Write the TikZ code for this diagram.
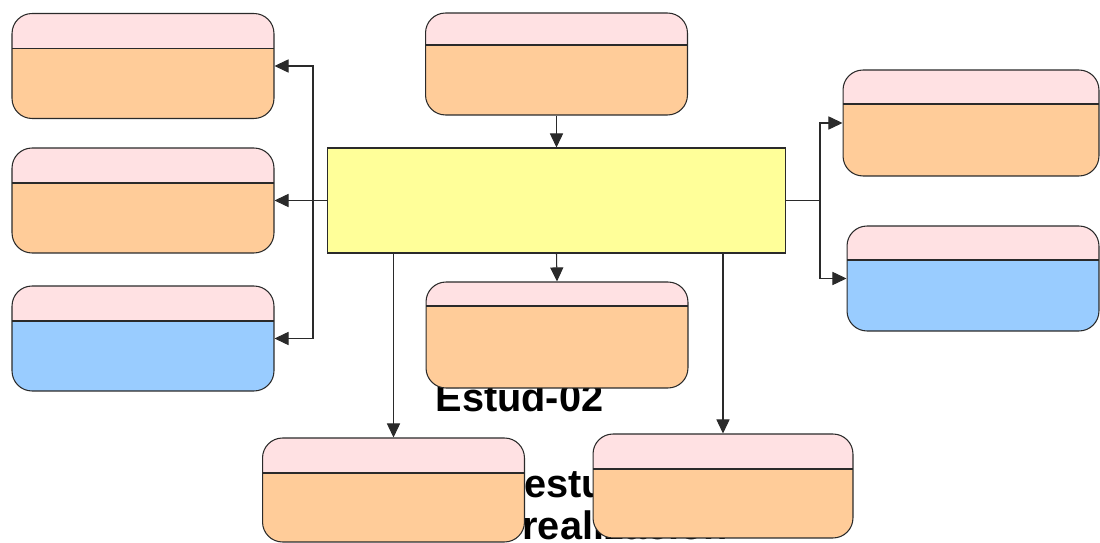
\documentclass[tikz,border=0pt]{standalone}
\usepackage{fontspec}
\setmainfont{Liberation Sans}
\usetikzlibrary{arrows.meta}
\definecolor{cabecera}{HTML}{FFE1E3}
\definecolor{naranja}{HTML}{FFCC99}
\definecolor{celeste}{HTML}{99CCFF}
\definecolor{amarillo}{HTML}{FFFF99}
\definecolor{borde}{HTML}{2A2A2A}
\tikzset{
  cab/.store in=\cabalto, cab=7mm,
  estado/.style={draw=borde, rounded corners=4mm, inner sep=0pt,
    minimum width=5.24cm, minimum height=2.1cm, fill=#1,
    path picture={
      \fill[cabecera, sharp corners] (path picture bounding box.north west) rectangle ([yshift=-\cabalto]path picture bounding box.north east);
      \draw[borde, sharp corners] ([yshift=-\cabalto]path picture bounding box.north west) -- ([yshift=-\cabalto]path picture bounding box.north east);
    }},
  proceso/.style={draw=borde, fill=amarillo, minimum width=9.18cm, minimum height=2.1cm, inner sep=0pt},
  flecha/.style={draw=borde, -{Triangle[length=8pt,width=7.5pt]}},
  texto/.style={font=\bfseries\fontsize{22.6}{24}\selectfont, inner sep=0pt, anchor=base west},
}
\begin{document}
\begin{tikzpicture}[x=0.02cm, y=-0.02cm, line width=0.6pt]
  \useasboundingbox (0,0) rectangle (1100,543);
  \node[texto] (etiqueta) at (435,412) {Estud-02};
  \node[texto] (linea1) at (524,498) {estudio};
  \node[texto] (linea2) at (522,540) {realización};

  \node[estado=naranja] (izq1) at (143,66) {};
  \node[estado=naranja] (izq2) at (143,200.5) {};
  \node[estado=celeste] (izq3) at (143,338.5) {};
  \node[estado=naranja, minimum height=2.04cm, cab=6.4mm] (arriba) at (556.5,64) {};
  \node[proceso] (central) at (556.5,200.5) {};
  \node[estado=naranja, minimum height=2.12cm, cab=4.8mm] (medio) at (557,335) {};
  \node[estado=naranja, minimum height=2.08cm] (abajoI) at (393.5,490) {};
  \node[estado=naranja, minimum width=5.2cm, minimum height=2.08cm] (abajoD) at (723,486) {};
  \node[estado=naranja, minimum width=5.12cm, minimum height=2.12cm, cab=6.8mm] (der1) at (971,123) {};
  \node[estado=celeste, minimum width=5.04cm, cab=6.8mm] (der2) at (973,278.5) {};

  \coordinate (ramaI) at (313,200.5);
  \coordinate (ramaD) at (820,200.5);
  \draw[borde] (central.west) -- (ramaI);
  \draw[flecha] (ramaI) |- (izq1.east);
  \draw[flecha] (ramaI) -- (izq2.east);
  \draw[flecha] (ramaI) |- (izq3.east);
  \draw[borde] (central.east) -- (ramaD);
  \draw[flecha] (ramaD) |- (der1.west);
  \draw[flecha] (ramaD) |- (der2.west);
  \draw[flecha] (arriba.south) -- (central.north);
  \draw[flecha] (central.south) -- (medio.north);
  \draw[flecha] (central.south -| abajoI.north) -- (abajoI.north);
  \draw[flecha] (central.south -| abajoD.north) -- (abajoD.north);
\end{tikzpicture}
\end{document}
